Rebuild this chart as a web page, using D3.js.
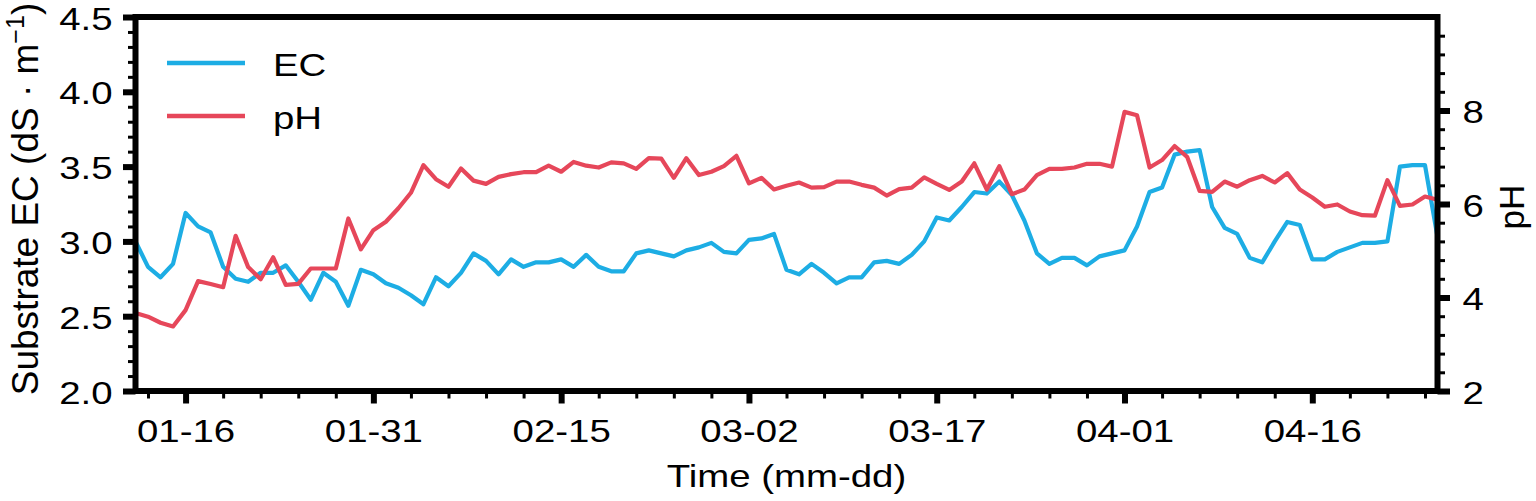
<!DOCTYPE html>
<html>
<head>
<meta charset="utf-8">
<script src="https://cdn.jsdelivr.net/npm/d3@7/dist/d3.min.js"></script>
<style>
  html, body { margin: 0; padding: 0; background: #fff; }
  svg { display: block; }
  text { font-family: "Liberation Sans", Arial, sans-serif; fill: #000; }
</style>
</head>
<body>
<svg id="chart" width="1536" height="501"></svg>
<script>
// ---------------- data ----------------
const year = 2023;
const dates = [
  "01-12","01-13","01-14","01-15","01-16","01-17","01-18","01-19","01-20","01-21",
  "01-22","01-23","01-24","01-25","01-26","01-27","01-28","01-29","01-30","01-31",
  "02-01","02-02","02-03","02-04","02-05","02-06","02-07","02-08","02-09","02-10",
  "02-11","02-12","02-13","02-14","02-15","02-16","02-17","02-18","02-19","02-20",
  "02-21","02-22","02-23","02-24","02-25","02-26","02-27","02-28",
  "03-01","03-02","03-03","03-04","03-05","03-06","03-07","03-08","03-09","03-10",
  "03-11","03-12","03-13","03-14","03-15","03-16","03-17","03-18","03-19","03-20",
  "03-21","03-22","03-23","03-24","03-25","03-26","03-27","03-28","03-29","03-30","03-31",
  "04-01","04-02","04-03","04-04","04-05","04-06","04-07","04-08","04-09","04-10",
  "04-11","04-12","04-13","04-14","04-15","04-16","04-17","04-18","04-19","04-20",
  "04-21","04-22","04-23","04-24","04-25","04-26"
];
const ecValues = [
  3.00,2.83,2.76,2.85,3.19,3.10,3.06,2.83,2.75,2.73,
  2.79,2.79,2.84,2.73,2.61,2.79,2.73,2.57,2.81,2.78,
  2.72,2.69,2.64,2.58,2.76,2.70,2.79,2.92,2.87,2.78,
  2.88,2.83,2.86,2.86,2.88,2.83,2.91,2.83,2.80,2.80,
  2.92,2.94,2.92,2.90,2.94,2.96,2.99,2.93,2.92,3.01,
  3.02,3.05,2.81,2.78,2.85,2.79,2.72,2.76,2.76,2.86,
  2.87,2.85,2.91,3.00,3.16,3.14,3.23,3.33,3.32,3.40,
  3.31,3.14,2.92,2.85,2.89,2.89,2.84,2.90,2.92,2.94,
  3.10,3.33,3.36,3.58,3.60,3.61,3.23,3.09,3.05,2.89,
  2.86,3.00,3.13,3.11,2.88,2.88,2.93,2.96,2.99,2.99,
  3.00,3.50,3.51,3.51,3.03
];
const phValues = [
  3.67,3.59,3.46,3.38,3.73,4.35,4.29,4.22,5.32,4.65,
  4.39,4.86,4.27,4.29,4.62,4.62,4.62,5.69,5.03,5.44,
  5.62,5.91,6.24,6.83,6.53,6.37,6.76,6.50,6.43,6.58,
  6.64,6.68,6.68,6.82,6.69,6.90,6.82,6.78,6.89,6.87,
  6.75,6.98,6.97,6.56,6.98,6.62,6.69,6.81,7.03,6.44,
  6.56,6.31,6.39,6.46,6.35,6.36,6.48,6.48,6.41,6.35,
  6.18,6.32,6.35,6.57,6.43,6.30,6.48,6.87,6.31,6.81,
  6.21,6.31,6.62,6.75,6.75,6.78,6.86,6.86,6.80,7.97,
  7.90,6.78,6.94,7.24,7.01,6.28,6.26,6.48,6.37,6.51,
  6.60,6.46,6.66,6.31,6.14,5.94,5.99,5.84,5.76,5.75,
  6.51,5.96,5.99,6.16,6.09
];
const xMajorTicks = ["01-16","01-31","02-15","03-02","03-17","04-01","04-16"];
const ecMajorTicks = [2.0,2.5,3.0,3.5,4.0,4.5];
const phMajorTicks = [2,4,6,8];
const seriesNames = ["EC","pH"];
const seriesColors = ["#1DADE4","#E6475A"];

// ---------------- layout ----------------
const L = 135.5, R = 1437.5, T = 17, B = 391;
const SX = 1.2; // horizontal glyph stretch of the reference
const svg = d3.select("#chart");

const parse = d3.utcParse("%Y-%m-%d");
const toDate = s => parse(year + "-" + s);
const dateObjs = dates.map(toDate);

const x = d3.scaleUtc().domain([dateObjs[0], dateObjs[dateObjs.length - 1]]).range([L, R]);
const yEC = d3.scaleLinear().domain([2, 4.5]).range([B, T]);
const yPH = d3.scaleLinear().domain([2, 10]).range([B, T]);

const ecData = dates.map((d, i) => ({ date: dateObjs[i], v: ecValues[i] }));
const phData = dates.map((d, i) => ({ date: dateObjs[i], v: phValues[i] }));

// lines
const lineEC = d3.line().x(d => x(d.date)).y(d => yEC(d.v));
const linePH = d3.line().x(d => x(d.date)).y(d => yPH(d.v));

svg.append("path").datum(ecData).attr("d", lineEC)
  .attr("fill", "none").attr("stroke", seriesColors[0]).attr("stroke-width", 4.2)
  .attr("stroke-linejoin", "round");
svg.append("path").datum(phData).attr("d", linePH)
  .attr("fill", "none").attr("stroke", seriesColors[1]).attr("stroke-width", 4.2)
  .attr("stroke-linejoin", "round");

// helper to restyle axis labels with horizontal stretch
function stretchLabels(g, anchor) {
  g.selectAll(".tick text").each(function () {
    const t = d3.select(this);
    const tx = +t.attr("x") || 0;
    const ty = +t.attr("y") || 0;
    t.attr("x", null).attr("y", null).attr("dy", null)
      .attr("transform", `translate(${tx},${ty}) scale(${SX},1)`)
      .attr("text-anchor", anchor)
      .attr("font-size", 32)
      .attr("font-family", "Liberation Sans, Arial, sans-serif");
  });
}

// ---- bottom axis ----
const minorX = d3.utcDay.range(toDate("01-13"), d3.utcDay.offset(dateObjs[dateObjs.length - 1], 1), 3);
const gxMinor = svg.append("g").attr("transform", `translate(0,${B})`)
  .call(d3.axisBottom(x).tickValues(minorX).tickSize(7.5).tickFormat(""));
gxMinor.select(".domain").remove();
gxMinor.selectAll(".tick line").attr("stroke", "#000").attr("stroke-width", 3);

const gx = svg.append("g").attr("transform", `translate(0,${B})`)
  .call(d3.axisBottom(x).tickValues(xMajorTicks.map(toDate)).tickSize(12.5)
    .tickFormat(d3.utcFormat("%m-%d")));
gx.select(".domain").remove();
gx.selectAll(".tick line").attr("stroke", "#000").attr("stroke-width", 6);
gx.selectAll(".tick text").attr("y", 50.5);
stretchLabels(gx, "middle");

// ---- left axis ----
const minorEC = d3.range(20, 46).map(v => v / 10).filter(v => Math.abs(v * 2 - Math.round(v * 2)) > 1e-6);
const gyMinor = svg.append("g").attr("transform", `translate(${L},0)`)
  .call(d3.axisLeft(yEC).tickValues(minorEC).tickSize(7.5).tickFormat(""));
gyMinor.select(".domain").remove();
gyMinor.selectAll(".tick line").attr("stroke", "#000").attr("stroke-width", 3);

const gy = svg.append("g").attr("transform", `translate(${L},0)`)
  .call(d3.axisLeft(yEC).tickValues(ecMajorTicks).tickSize(12.5).tickFormat(d3.format(".1f")));
gy.select(".domain").remove();
gy.selectAll(".tick line").attr("stroke", "#000").attr("stroke-width", 6);
gy.selectAll(".tick text").attr("x", -23).attr("y", 12);
stretchLabels(gy, "end");

// ---- right axis ----
const minorPH = d3.range(2, 10, 0.4).map(v => +v.toFixed(1)).filter(v => Math.abs(v / 2 - Math.round(v / 2)) > 1e-6);
const grMinor = svg.append("g").attr("transform", `translate(${R},0)`)
  .call(d3.axisRight(yPH).tickValues(minorPH).tickSize(7.5).tickFormat(""));
grMinor.select(".domain").remove();
grMinor.selectAll(".tick line").attr("stroke", "#000").attr("stroke-width", 3);

const gr = svg.append("g").attr("transform", `translate(${R},0)`)
  .call(d3.axisRight(yPH).tickValues(phMajorTicks).tickSize(12.5).tickFormat(d3.format("d")));
gr.select(".domain").remove();
gr.selectAll(".tick line").attr("stroke", "#000").attr("stroke-width", 6);
gr.selectAll(".tick text").attr("x", 25).attr("y", 12);
stretchLabels(gr, "start");

// ---- frame ----
svg.append("rect").attr("x", L).attr("y", T).attr("width", R - L).attr("height", B - T)
  .attr("fill", "none").attr("stroke", "#000").attr("stroke-width", 6);

// ---- axis titles ----
svg.append("text")
  .attr("transform", `translate(${(L + R) / 2},486.5) scale(${SX},1)`)
  .attr("text-anchor", "middle").attr("font-size", 32)
  .text("Time (mm-dd)");

const yl = svg.append("text")
  .attr("transform", `translate(37.5,${(T + B) / 2 - 5}) rotate(-90)`)
  .attr("text-anchor", "middle").attr("font-size", 37);
yl.append("tspan").text("Substrate EC (dS \u00B7 m");
yl.append("tspan").attr("font-size", 25).attr("dy", -14).text("\u22121");
yl.append("tspan").attr("dy", 14).text(")");

svg.append("text")
  .attr("transform", `translate(1524,${(T + B) / 2 + 3}) rotate(-90)`)
  .attr("text-anchor", "middle").attr("font-size", 35)
  .text("pH");

// ---- legend ----
const legendY = [63, 116];
seriesNames.forEach((name, i) => {
  svg.append("line").attr("x1", 167).attr("x2", 245)
    .attr("y1", legendY[i]).attr("y2", legendY[i])
    .attr("stroke", seriesColors[i]).attr("stroke-width", 4.5);
  svg.append("text")
    .attr("transform", `translate(273,${legendY[i] + 12.5}) scale(${SX},1)`)
    .attr("font-size", 32).text(name);
});
</script>
</body>
</html>
